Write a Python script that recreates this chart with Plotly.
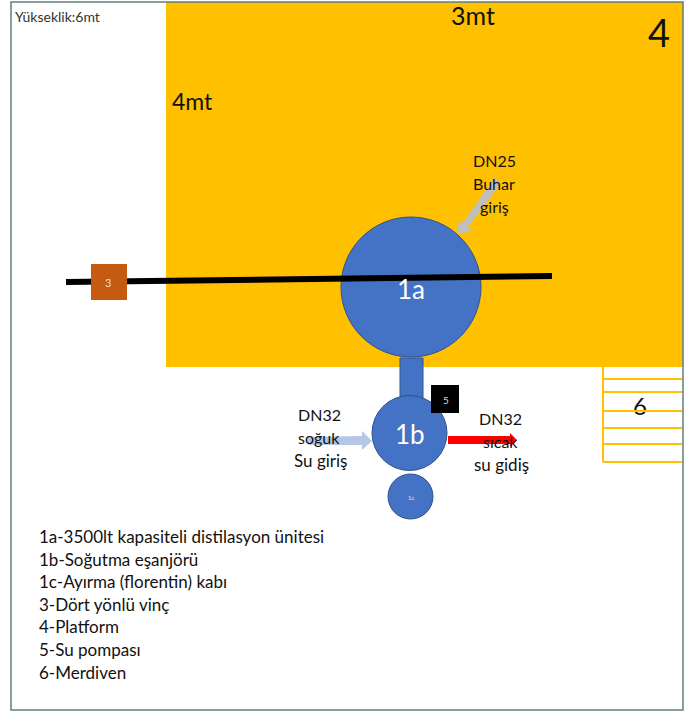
import plotly.graph_objects as go

legend_lines = ["1a-3500lt kapasiteli distilasyon ünitesi", "1b-Soğutma eşanjörü",
                "1c-Ayırma (florentin) kabı", "3-Dört yönlü vinç", "4-Platform",
                "5-Su pompası", "6-Merdiven"]
legend_y = [536, 559, 581, 604, 626, 649, 672]

# label, x, y, size, colour
labels = [
    ("Yükseklik:6mt", 57, 16, 14, "#333333"),
    ("3mt", 473, 15, 25, "#111111"),
    ("4", 659, 32, 38, "#111111"),
    ("4mt", 192, 101, 23, "#111111"),
    ("DN25", 494, 160, 16, "#111111"),
    ("Buhar", 494, 183, 16, "#111111"),
    ("giriş", 494, 206, 16, "#111111"),
    ("1a", 411, 289, 26, "#ffffff"),
    ("1b", 410, 434, 26, "#ffffff"),
    ("1c", 411, 497, 6, "#dde6f5"),
    ("3", 108, 282, 11, "#f5d9c0"),
    ("5", 446, 400, 10, "#dddddd"),
    ("DN32", 319, 414, 16, "#111111"),
    ("soğuk", 319, 437, 16, "#111111"),
    ("Su giriş", 320, 460, 17, "#111111"),
    ("DN32", 500, 418, 16, "#111111"),
    ("sıcak", 500, 441, 16, "#111111"),
    ("su gidiş", 501, 464, 17, "#111111"),
]
stair_label = "6"
stair_label_x = [640]
stair_label_y = [409]

BLUE, BLUE_EDGE, ORANGE = "#4472c4", "#2f528f", "#ffc000"
platform = (166, 2, 683, 367)
frame = (11, 2, 683, 710)
circles = [(411, 287, 70), (409.5, 433, 37.5), (410.5, 496.5, 22.5)]
pipe = (400, 358, 423, 398)
pump = (431, 385, 459, 413)
winch = (91, 264, 127, 300)
rail = (66, 282, 552, 276)
stair_x = (603, 682)
stair_top, stair_bottom = 367, 462
stair_y = [379, 392, 411, 428, 444, 462]

arrow_cold = "M 308 437 L 362 436 L 362 431 L 372 441 L 362 450 L 362 445 L 308 445 Z"
arrow_hot = "M 448 436 L 510 436 L 510 433 L 517 440 L 510 447 L 510 444 L 448 444 Z"
arrow_steam = "M 494 178 L 501 183 L 468 227 L 473 231 L 457 234 L 459 220 L 463 223 Z"

shapes = []
def rect(b, fill, line=None, w=0):
    shapes.append(dict(type="rect", x0=b[0], y0=b[1], x1=b[2], y1=b[3], fillcolor=fill,
                       line=dict(color=line or fill, width=w)))

rect(platform, ORANGE)
rect(pipe, BLUE, BLUE_EDGE, 1)
for cx, cy, r in circles:
    shapes.append(dict(type="circle", x0=cx-r, y0=cy-r, x1=cx+r, y1=cy+r, fillcolor=BLUE,
                       line=dict(color=BLUE_EDGE, width=1)))
shapes.append(dict(type="line", x0=rail[0], y0=rail[1], x1=rail[2], y1=rail[3],
                   line=dict(color="#000000", width=6)))
rect(winch, "#c55a11")
rect(pump, "#000000")
shapes.append(dict(type="path", path=arrow_cold, fillcolor="#b4c7e7", line=dict(width=0)))
shapes.append(dict(type="path", path=arrow_hot, fillcolor="#ff0000", line=dict(width=0)))
shapes.append(dict(type="path", path=arrow_steam, fillcolor="#bfbfbf", line=dict(width=0)))
shapes.append(dict(type="line", x0=stair_x[0], x1=stair_x[0], y0=stair_top, y1=stair_bottom,
                   line=dict(color=ORANGE, width=2)))
for y in stair_y:
    shapes.append(dict(type="line", x0=stair_x[0], x1=stair_x[1], y0=y, y1=y,
                       line=dict(color=ORANGE, width=2)))
shapes.append(dict(type="rect", x0=frame[0], y0=frame[1], x1=frame[2], y1=frame[3],
                   line=dict(color="#5f7f7f", width=1.5), fillcolor="rgba(0,0,0,0)"))

ann = []
for t, x, y, s, c in labels:
    ann.append(dict(x=x, y=y, text=t, showarrow=False, xanchor="center", yanchor="middle",
                    font=dict(size=s, color=c)))
for t, y in zip(legend_lines, legend_y):
    ann.append(dict(x=37, y=y, text=t, showarrow=False, xanchor="left", yanchor="middle",
                    font=dict(size=17, color="#111111")))

# the "6" is a trace so that the stair line (a shape above traces) crosses it
fig = go.Figure(go.Scatter(x=stair_label_x, y=stair_label_y, mode="text", text=[stair_label],
                           textposition="middle center", hoverinfo="skip",
                           textfont=dict(size=24, color="#111111", family="Lato")))
fig.update_layout(width=692, height=711, margin=dict(l=0, r=0, t=0, b=0),
                  paper_bgcolor="white", plot_bgcolor="white", showlegend=False,
                  font=dict(family="Lato"), shapes=shapes, annotations=ann,
                  xaxis=dict(range=[0, 692], visible=False, fixedrange=True),
                  yaxis=dict(range=[711, 0], visible=False, fixedrange=True))
fig.write_html("out.html", config=dict(displayModeBar=False),
               post_script="document.body.style.margin='0';document.body.style.overflow='hidden';")
